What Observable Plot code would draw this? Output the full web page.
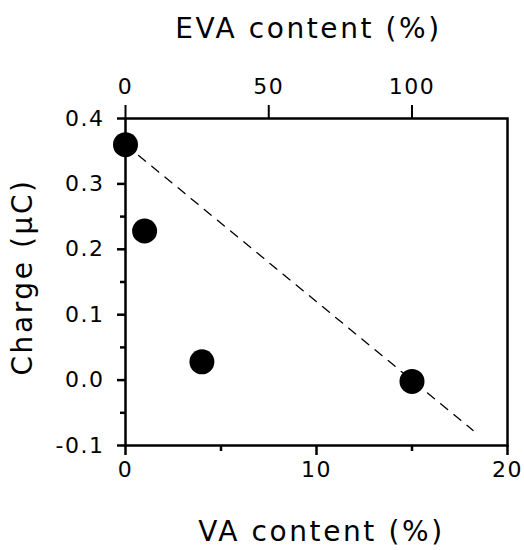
<!DOCTYPE html>
<html><head><meta charset="utf-8">
<script src="https://cdn.jsdelivr.net/npm/d3@7"></script>
<script src="https://cdn.jsdelivr.net/npm/@observablehq/plot@0.6"></script>
<style>
body{margin:0;background:#fff;}
svg{font-family:"DejaVu Sans",Verdana,sans-serif;}
svg g[aria-label="text"] text{letter-spacing:2.6px;}
svg g[aria-label$="tick label"] text{letter-spacing:1.5px;}
</style>
</head><body><div id="c"></div>
<script>
// data
const vaContent = [0, 1, 4, 15];
const charge = [0.36, 0.228, 0.028, -0.002];
const fitVA = [0, 18.2];
const fitCharge = [0.36, -0.077];
const xTicks = [0, 10, 20];
const xMinor = [5, 15];
const yTicks = [-0.1, 0, 0.1, 0.2, 0.3, 0.4];
const yMinor = [-0.05, 0.05, 0.15, 0.25, 0.35];
const evaTicks = [0, 50, 100];
const vaAtEva100 = 15;

const pts = vaContent.map((v, i) => ({va: v, q: charge[i]}));
const fit = fitVA.map((v, i) => ({va: v, q: fitCharge[i]}));
const evaPos = evaTicks.map(e => e * vaAtEva100 / 100);
const F = "DejaVu Sans, Verdana, sans-serif";

const chart = Plot.plot({
  width: 524, height: 550,
  marginLeft: 125, marginRight: 17, marginTop: 118, marginBottom: 105,
  x: {domain: [0, 20]},
  y: {domain: [-0.1, 0.4]},
  style: {fontSize: "22px", fontFamily: F, color: "#000"},
  marks: [
    Plot.frame({stroke: "#000", strokeWidth: 2.5}),
    Plot.axisX({anchor: "bottom", ticks: xTicks, tickSize: 10, tickPadding: 6, strokeWidth: 2.5, fontSize: 22, label: null, tickFormat: d => d}),
    Plot.axisX({anchor: "bottom", ticks: xMinor, tickSize: 6, strokeWidth: 2.5, text: null, label: null}),
    Plot.axisX({anchor: "top", ticks: evaPos, tickSize: 14, tickPadding: 11, strokeWidth: 2, fontSize: 22, label: null, tickFormat: d => evaTicks[evaPos.indexOf(d)]}),
    Plot.axisY({anchor: "left", ticks: yTicks, tickSize: 8, tickPadding: 13, strokeWidth: 2.5, fontSize: 22, label: null, tickFormat: d => d.toFixed(1)}),
    Plot.axisY({anchor: "left", ticks: yMinor, tickSize: 5, strokeWidth: 2.5, text: null, label: null}),
    Plot.line(fit, {x: "va", y: "q", stroke: "#000", strokeWidth: 1.3, strokeDasharray: "9,8"}),
    Plot.dot(pts, {x: "va", y: "q", r: 12.5, fill: "#000", stroke: "none"}),
    Plot.text(["EVA content (%)"], {frameAnchor: "top", dx: -8, dy: -81, fontSize: 28, lineAnchor: "bottom"}),
    Plot.text(["VA content (%)"], {frameAnchor: "bottom", dx: 5, dy: 95, fontSize: 28, lineAnchor: "bottom"}),
    Plot.text(["Charge (μC)"], {frameAnchor: "left", textAnchor: "middle", dx: -102, dy: -5, rotate: -90, fontSize: 28})
  ]
});
document.getElementById("c").appendChild(chart);
</script></body></html>
